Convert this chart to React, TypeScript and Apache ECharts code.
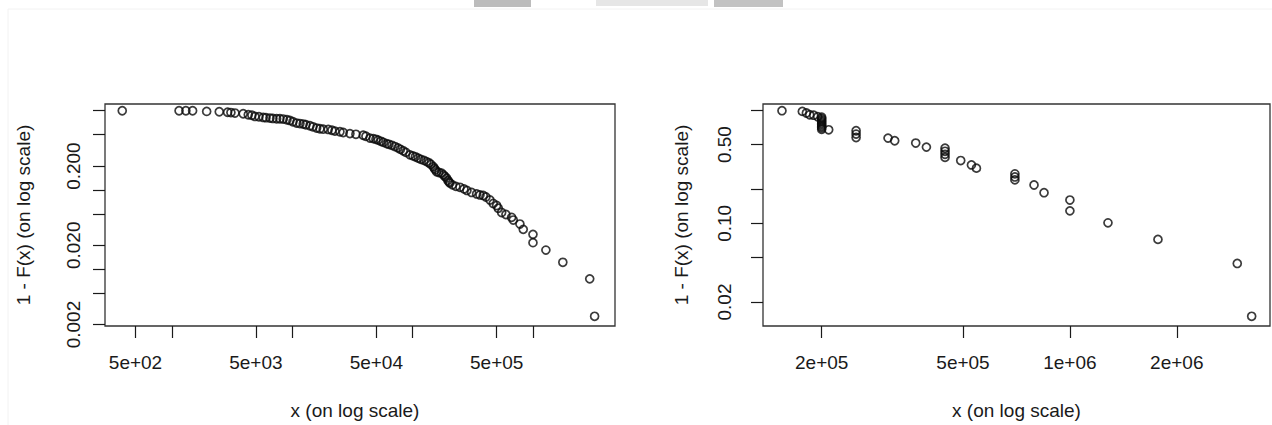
import React, { useEffect, useRef } from 'react';
import * as echarts from 'echarts';

// Full sample: observed values and empirical survival function 1 - F(x)
const sampleX = [
  388, 1150, 1310, 1490, 1950, 2480, 2910, 3100, 3350, 3920,
  4320, 4630, 4910, 5300, 5750, 6060, 6540, 6920, 7430, 7910,
  8430, 9050, 9580, 10150, 10890, 11600, 12360, 13010, 14050, 14880,
  15970, 17010, 18110, 19930, 21390, 22660, 24930, 26560, 30180, 33850,
  38920, 40980, 44240, 47140, 49630, 51860, 54600, 57280, 60870, 63620,
  67380, 71360, 75570, 79270, 83620, 88050, 95080, 100700, 105600, 111400,
  117300, 124300, 130900, 136800, 142100, 148500, 151900, 154800, 158400, 165500,
  174300, 180400, 185700, 191800, 196700, 200500, 204300, 214300, 229100, 247400,
  267100, 282800, 309400, 340400, 362700, 386300, 406700, 439000, 467700, 499200,
  514700, 549300, 596300, 664900, 685500, 779300, 830200, 1000000, 1000000, 1280000,
  1770000, 2960000, 3250000,
];
const sampleCcdf = [
  1, 1, 1, 1, 0.98, 0.971, 0.957, 0.949, 0.935, 0.916,
  0.89, 0.877, 0.847, 0.839, 0.823, 0.816, 0.808, 0.799, 0.792, 0.792,
  0.785, 0.769, 0.754, 0.726, 0.699, 0.689, 0.679, 0.665, 0.646, 0.627,
  0.604, 0.592, 0.585, 0.58, 0.567, 0.553, 0.543, 0.531, 0.514, 0.504,
  0.49, 0.476, 0.451, 0.445, 0.436, 0.426, 0.411, 0.399, 0.384, 0.377,
  0.366, 0.353, 0.34, 0.326, 0.312, 0.298, 0.277, 0.269, 0.262, 0.252,
  0.243, 0.236, 0.228, 0.22, 0.21, 0.197, 0.187, 0.179, 0.17, 0.166,
  0.163, 0.155, 0.148, 0.141, 0.132, 0.126, 0.122, 0.116, 0.111, 0.108,
  0.103, 0.0986, 0.093, 0.089, 0.0864, 0.0852, 0.0815, 0.0747, 0.0675, 0.0637,
  0.0587, 0.0519, 0.049, 0.0451, 0.0417, 0.0371, 0.0318, 0.0275, 0.0216, 0.0174,
  0.0122, 0.00754, 0.00254,
];

// Upper tail only (x >= xmin), survival function recomputed on the tail
const tailX = [
  154600, 176400, 181100, 185000, 189900, 194900, 200000, 200000, 200000, 200000,
  200000, 200000, 200000, 200000, 200000, 209300, 250000, 250000, 250000, 307500,
  321100, 368000, 394400, 445000, 445000, 445000, 445000, 492700, 528100, 545500,
  700000, 700000, 700000, 792500, 845600, 1000000, 1000000, 1280000, 1770000, 2960000,
  3250000,
];
const tailCcdf = [
  1, 0.986, 0.954, 0.921, 0.912, 0.884, 0.875, 0.849, 0.823, 0.798,
  0.774, 0.75, 0.728, 0.706, 0.684, 0.677, 0.664, 0.62, 0.578, 0.571,
  0.541, 0.516, 0.475, 0.464, 0.436, 0.41, 0.385, 0.361, 0.33, 0.309,
  0.275, 0.258, 0.243, 0.219, 0.187, 0.161, 0.129, 0.101, 0.072, 0.044,
  0.01494,
];

// Axis ticks and labels (log scale, base 10)
const sampleXTicks = [500, 1000, 5000, 10000, 50000, 100000, 500000, 1000000];
const sampleXLabelValues = [500, 5000, 50000, 500000];
const sampleXLabels = ['5e+02', '5e+03', '5e+04', '5e+05'];
const sampleYTicks = [0.002, 0.005, 0.01, 0.02, 0.05, 0.1, 0.2, 0.5, 1];
const sampleYLabelValues = [0.002, 0.02, 0.2];
const sampleYLabels = ['0.002', '0.020', '0.200'];

const tailXTicks = [200000, 500000, 1000000, 2000000];
const tailXLabelValues = [200000, 500000, 1000000, 2000000];
const tailXLabels = ['2e+05', '5e+05', '1e+06', '2e+06'];
const tailYTicks = [0.02, 0.05, 0.1, 0.2, 0.5, 1];
const tailYLabelValues = [0.02, 0.1, 0.5];
const tailYLabels = ['0.02', '0.10', '0.50'];

// Plotted ranges of each panel
const sampleXRange = [279, 4.8e6];
const sampleYRange = [0.001916, 1.216];
const tailXRange = [136700, 3.66e6];
const tailYRange = [0.01225, 1.147];

const X_TITLE = 'x (on log scale)';
const Y_TITLE = '1 - F(x) (on log scale)';

const FONT = '"Liberation Sans", Arial, sans-serif';
const INK = '#1a1a1a';

const lg = (v: number) => Math.log10(v);

const labelFormatter = (values: number[], texts: string[]) => (v: number) => {
  const i = values.findIndex((t) => Math.abs(lg(t) - v) < 1e-6);
  return i >= 0 ? texts[i] : '';
};

function makeXAxis(
  gridIndex: number,
  range: number[],
  ticks: number[],
  labelValues: number[],
  labels: string[],
  namePadding: number[],
) {
  return {
    type: 'value',
    gridIndex,
    position: 'bottom',
    min: lg(range[0]),
    max: lg(range[1]),
    name: X_TITLE,
    nameLocation: 'middle',
    nameGap: 75,
    nameTextStyle: { fontSize: 19, color: INK, fontFamily: FONT, padding: namePadding },
    axisLine: { show: false, onZero: false },
    axisTick: {
      show: true,
      inside: false,
      length: 12,
      customValues: ticks.map(lg),
      lineStyle: { color: INK, width: 1.2 },
    },
    axisLabel: {
      show: true,
      customValues: labelValues.map(lg),
      formatter: labelFormatter(labelValues, labels),
      fontSize: 19,
      fontFamily: FONT,
      color: INK,
      margin: 27,
    },
    splitLine: { show: false },
  };
}

function makeYAxis(
  gridIndex: number,
  range: number[],
  ticks: number[],
  labelValues: number[],
  labels: string[],
  labelMargin: number,
) {
  return {
    type: 'value',
    gridIndex,
    position: 'left',
    min: lg(range[0]),
    max: lg(range[1]),
    name: Y_TITLE,
    nameLocation: 'middle',
    nameRotate: 90,
    nameGap: 72,
    nameTextStyle: { fontSize: 19, color: INK, fontFamily: FONT },
    axisLine: { show: false, onZero: false },
    axisTick: {
      show: true,
      inside: false,
      length: 12,
      customValues: ticks.map(lg),
      lineStyle: { color: INK, width: 1.2 },
    },
    axisLabel: {
      show: true,
      rotate: 90,
      customValues: labelValues.map(lg),
      formatter: labelFormatter(labelValues, labels),
      fontSize: 19,
      fontFamily: FONT,
      color: INK,
      margin: labelMargin,
    },
    splitLine: { show: false },
  };
}

function makeScatter(index: number, xs: number[], ys: number[]) {
  return {
    type: 'scatter',
    xAxisIndex: index,
    yAxisIndex: index,
    data: xs.map((x, i) => [lg(x), lg(ys[i])]),
    symbol: 'circle',
    symbolSize: 8,
    silent: true,
    itemStyle: { color: 'rgba(0,0,0,0)', borderColor: '#0a0a0a', borderWidth: 1.7 },
    emphasis: { disabled: true },
  };
}

export default function App() {
  const ref = useRef<HTMLDivElement>(null);

  useEffect(() => {
    if (!ref.current) return;
    const chart = echarts.init(ref.current, undefined, { renderer: 'svg' });
    chart.setOption({
      animation: false,
      backgroundColor: '#ffffff',
      grid: [
        { left: 105, top: 104, width: 510, height: 222, show: true, borderColor: '#333', borderWidth: 1.3, backgroundColor: 'transparent' },
        { left: 763, top: 104, width: 507, height: 222, show: true, borderColor: '#333', borderWidth: 1.3, backgroundColor: 'transparent' },
      ],
      xAxis: [
        makeXAxis(0, sampleXRange, sampleXTicks, sampleXLabelValues, sampleXLabels, [0, 10, 0, 0]),
        makeXAxis(1, tailXRange, tailXTicks, tailXLabelValues, tailXLabels, [0, 0, 0, 0]),
      ],
      yAxis: [
        makeYAxis(0, sampleYRange, sampleYTicks, sampleYLabelValues, sampleYLabels, 22),
        makeYAxis(1, tailYRange, tailYTicks, tailYLabelValues, tailYLabels, 29),
      ],
      series: [
        makeScatter(0, sampleX, sampleCcdf),
        makeScatter(1, tailX, tailCcdf),
      ],
      graphic: [
        { type: 'rect', silent: true, shape: { x: 474, y: 0, width: 57, height: 7 }, style: { fill: '#bcbcbc' } },
        { type: 'rect', silent: true, shape: { x: 596, y: 0, width: 112, height: 6 }, style: { fill: '#e6e6e6' } },
        { type: 'rect', silent: true, shape: { x: 714, y: 0, width: 69, height: 7 }, style: { fill: '#c2c2c2' } },
        { type: 'line', silent: true, shape: { x1: 8, y1: 9, x2: 1272, y2: 9 }, style: { stroke: '#f2f2f2', lineWidth: 1 } },
        { type: 'line', silent: true, shape: { x1: 8, y1: 9, x2: 8, y2: 425 }, style: { stroke: '#f2f2f2', lineWidth: 1 } },
      ],
    });
    return () => chart.dispose();
  }, []);

  return (
    <div
      ref={ref}
      style={{ position: 'absolute', left: 0, top: 0, width: 1272, height: 425, background: '#fff' }}
    />
  );
}
